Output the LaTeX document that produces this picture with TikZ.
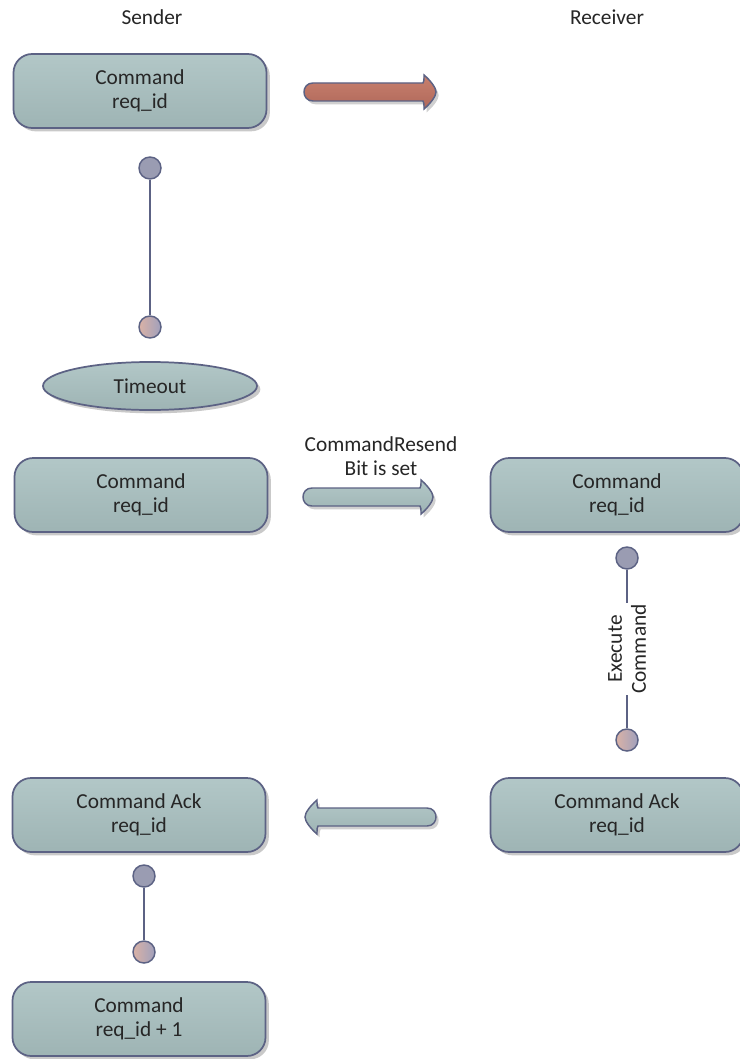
\documentclass[tikz,border=0pt]{standalone}
\usepackage{fontspec}
\setmainfont{Carlito}
\usetikzlibrary{shadows,shapes.geometric}
\definecolor{boxline}{RGB}{92,98,132}
\definecolor{boxtop}{RGB}{178,199,199}
\definecolor{boxbot}{RGB}{158,180,180}
\definecolor{dotfill}{RGB}{154,156,178}
\definecolor{dotpink}{RGB}{218,178,166}
\definecolor{dotblue}{RGB}{160,160,188}
\definecolor{redtop}{RGB}{200,128,110}
\definecolor{redbot}{RGB}{176,104,90}
\tikzset{
  x=0.75pt, y=-0.75pt,
  txt/.style={font=\fontsize{16}{18}\selectfont, text=black!85, align=center},
  statebox/.style={txt, draw=boxline, line width=1.3pt, rounded corners=14pt,
    top color=boxtop, bottom color=boxbot,
    minimum width={253*0.75pt}, minimum height={74*0.75pt}, inner sep=0pt,
    execute at begin node={\rule{0pt}{22pt}},
    drop shadow={shadow xshift=2.5pt, shadow yshift=-2.5pt, opacity=0.35, fill=black!60}},
  ovalbox/.style={txt, ellipse, draw=boxline, line width=1.3pt,
    top color=boxtop, bottom color=boxbot,
    minimum width={214*0.75pt}, minimum height={48*0.75pt}, inner sep=0pt,
    drop shadow={shadow xshift=2.5pt, shadow yshift=-2.5pt, opacity=0.35, fill=black!60}},
  startdot/.style={circle, draw=boxline, line width=1.1pt, fill=dotfill,
    minimum size={22*0.75pt}, inner sep=0pt},
  enddot/.style={circle, draw=boxline, line width=1.1pt, left color=dotpink, right color=dotblue,
    minimum size={22*0.75pt}, inner sep=0pt},
  link/.style={draw=boxline, line width=1.1pt},
  fatarrowstyle/.style={draw=boxline, line width=1.1pt, top color=boxtop, bottom color=boxbot,
    drop shadow={shadow xshift=2pt, shadow yshift=-2.5pt, opacity=0.3, fill=black!60}},
  redarrowstyle/.style={draw=boxline, line width=1.1pt, top color=redtop, bottom color=redbot,
    drop shadow={shadow xshift=2pt, shadow yshift=-2.5pt, opacity=0.3, fill=black!60}},
}
% #1 style, #2 x left, #3 x right (tip), #4 y middle
\newcommand\myFatArrow[4]{%
  \path[#1] ({#2+9},{#4-9}) -- ({#3-13},{#4-9})
    .. controls ({#3-12},{#4-11}) .. ({#3-12},{#4-17})
    .. controls ({#3-5},{#4-11}) and ({#3},{#4-4}) .. ({#3},{#4})
    .. controls ({#3},{#4+4}) and ({#3-5},{#4+11}) .. ({#3-12},{#4+17})
    .. controls ({#3-12},{#4+11}) .. ({#3-13},{#4+9})
    -- ({#2+9},{#4+9})
    .. controls ({#2-3},{#4+9}) and ({#2-3},{#4-9}) .. ({#2+9},{#4-9}) -- cycle;}
\begin{document}
\begin{tikzpicture}
\useasboundingbox[fill=white] (0,0) rectangle (739,1059);

\node[txt] (sender) at (152,17) {Sender};
\node[txt] (receiver) at (607,17) {Receiver};

% first command
\node[statebox] (cmd1) at (140,91) {Command\\req\_id};
\myFatArrow{redarrowstyle}{304}{436}{92}

\node[startdot] (d1) at (150,168) {};
\node[enddot] (d2) at (150,327) {};
\draw[link] (d1) -- (d2);

\node[ovalbox] (timeout) at (150,386) {Timeout};

% resend
\node[statebox] (cmd2) at (141,495) {Command\\req\_id};
\node[txt] (resendlbl) at (381,456) {CommandResend\\Bit is set};
\myFatArrow{fatarrowstyle}{303}{433}{497}
\node[statebox] (cmd3) at (617,495) {Command\\req\_id};

\node[startdot] (d3) at (627,558) {};
\node[enddot] (d4) at (627,740) {};
\node[txt, rotate=90, fill=white, inner sep=1pt] (exec) at (627,649) {Execute\\Command};
\draw[link] (d3) -- (exec.east);
\draw[link] (exec.west) -- (d4);

% ack
\node[statebox] (ack1) at (139,815) {Command Ack\\req\_id};
\begin{scope}[shift={(740,0)}, xscale=-1]
\myFatArrow{fatarrowstyle}{304}{435}{817}
\end{scope}
\node[statebox] (ack2) at (617,815) {Command Ack\\req\_id};

\node[startdot] (d5) at (144,876) {};
\node[enddot] (d6) at (144,952) {};
\draw[link] (d5) -- (d6);

\node[statebox] (cmd4) at (139,1019) {Command\\req\_id + 1};
\end{tikzpicture}
\end{document}
